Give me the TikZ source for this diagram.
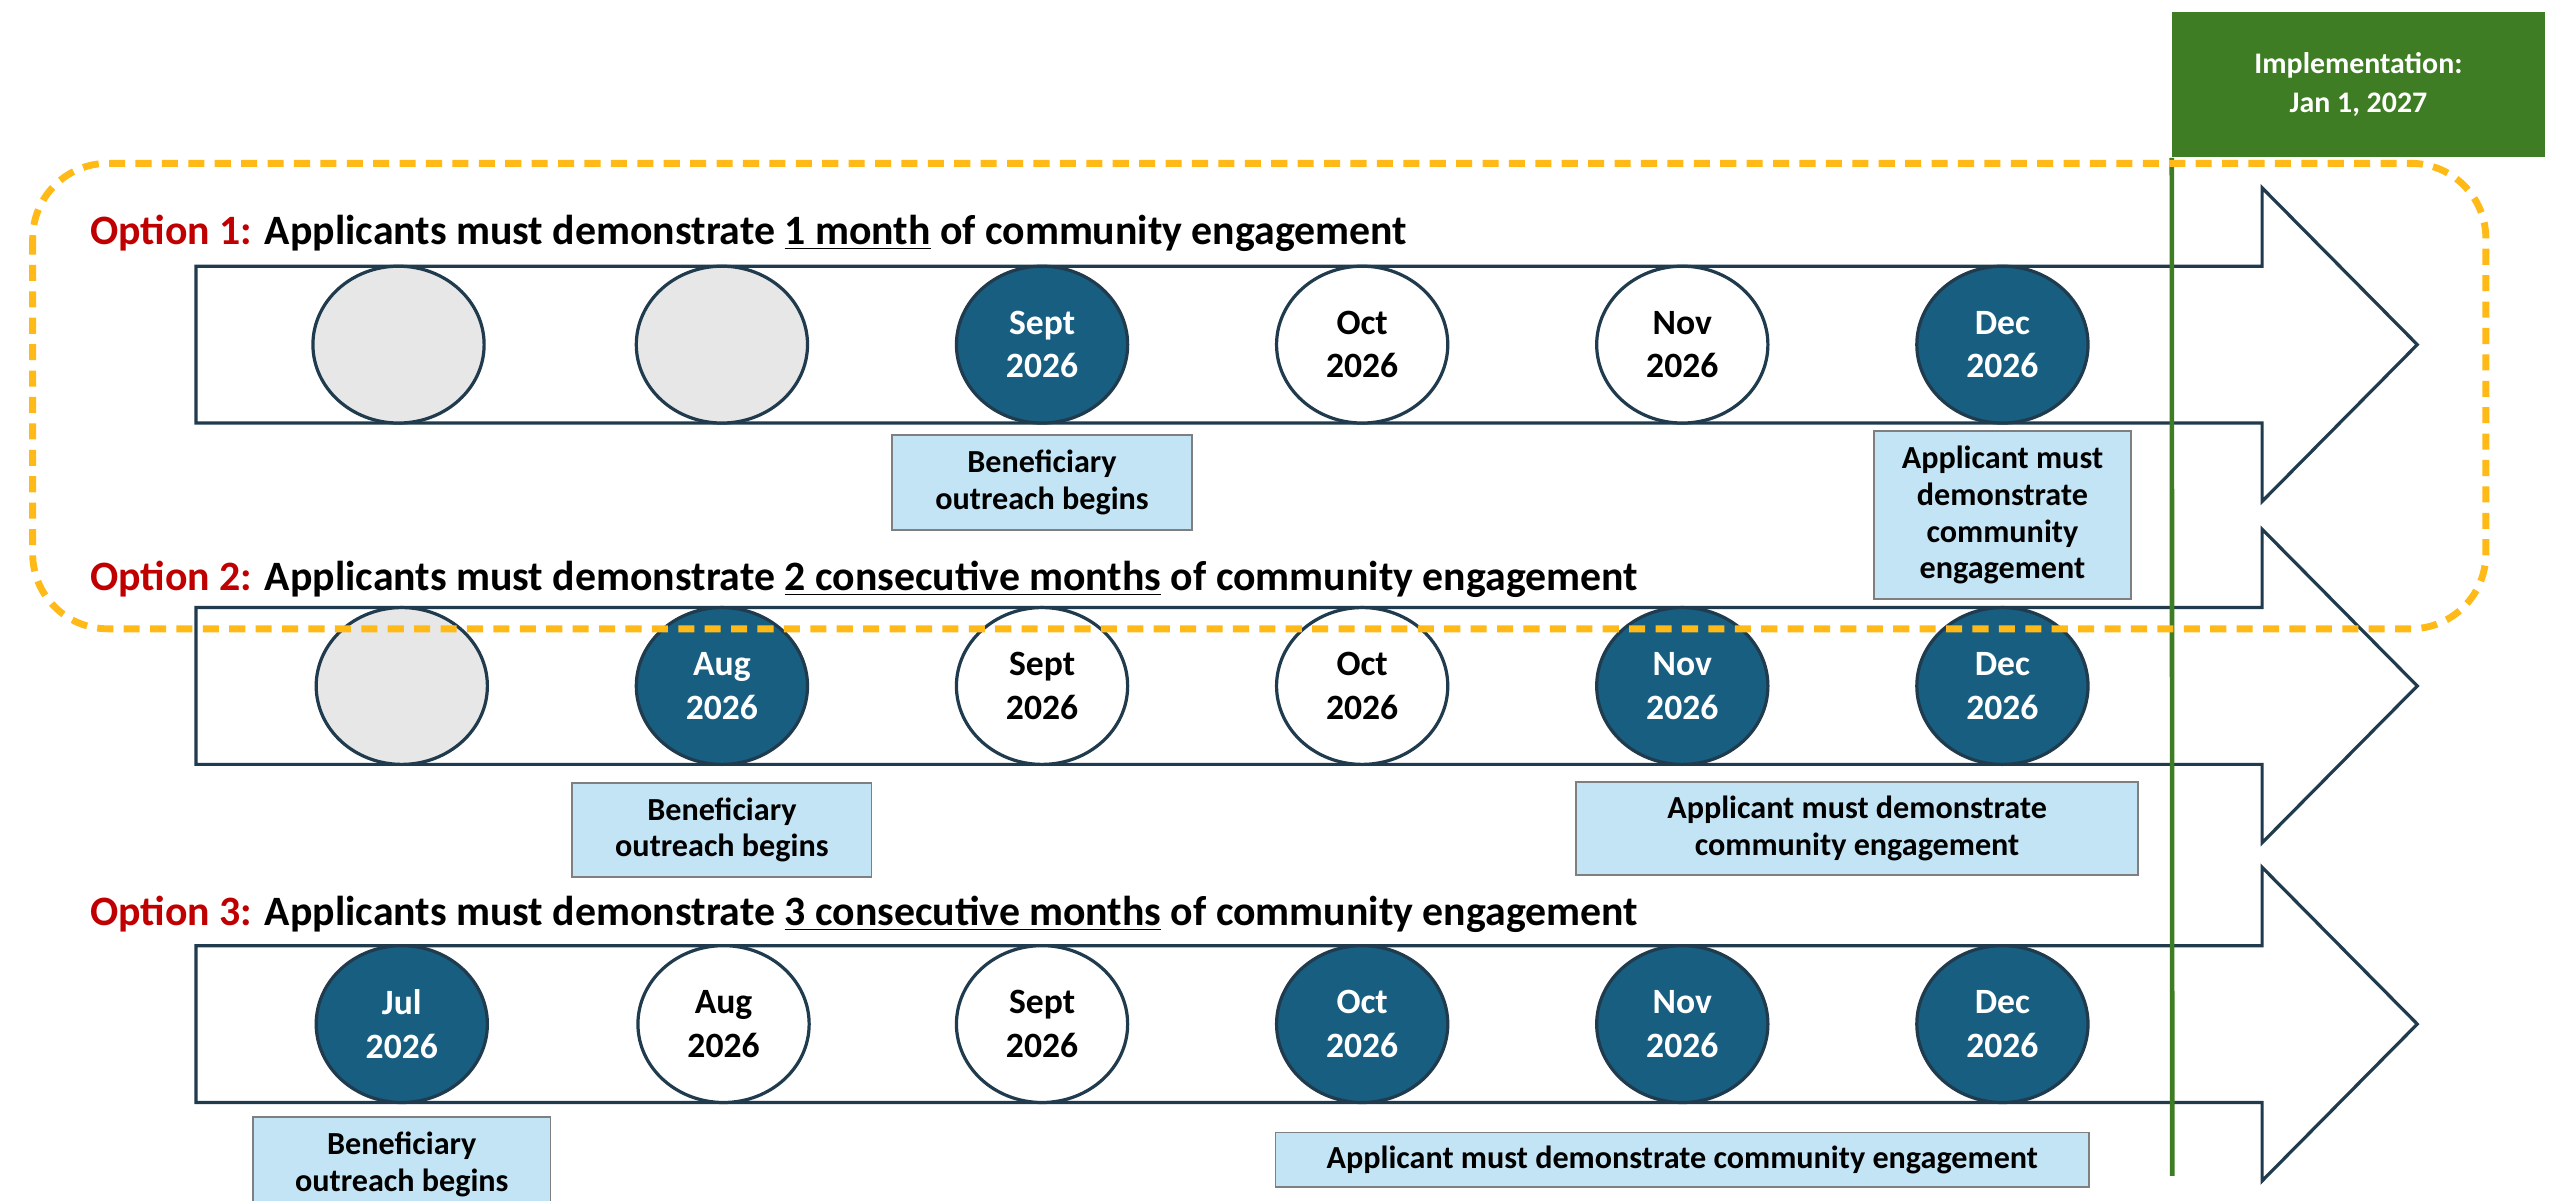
\documentclass[tikz,border=0pt]{standalone}
\usepackage{fontspec}
\setmainfont{Carlito}
\usetikzlibrary{positioning, shapes.geometric}
\definecolor{monthblue}{HTML}{185E80}
\definecolor{rimblue}{HTML}{1F3B4D}
\definecolor{emptygrey}{HTML}{E7E7E7}
\definecolor{notefill}{HTML}{C3E4F4}
\definecolor{noteline}{HTML}{7F7F7F}
\definecolor{implgreen}{HTML}{3E7D23}
\definecolor{optred}{HTML}{C00000}
\definecolor{hiorange}{HTML}{FFBA18}
\newcommand{\opt}[1]{\textcolor{optred}{Option #1:}}

\begin{document}
\begin{tikzpicture}[x=0.025cm,y=-0.025cm,
    month/.style={draw=rimblue,line width=1.4pt,ellipse,minimum width=2.62cm,minimum height=2.4cm,inner sep=0pt,align=center,font=\bfseries\fontsize{15.5}{19}\selectfont},
    done/.style={month,fill=monthblue,text=white},
    open/.style={month,fill=white},
    blank/.style={month,fill=emptygrey},
    note/.style={draw=noteline,fill=notefill,line width=0.8pt,align=center,inner sep=0pt,font=\bfseries\fontsize{14}{16}\selectfont},
    optitle/.style={anchor=west,inner sep=0pt,font=\bfseries\fontsize{18.2}{20}\selectfont},
    timeline/.style={draw=rimblue,line width=1.4pt,fill=white}]
    \useasboundingbox (0,0) rectangle (1568,735);

    % the three timeline arrows
    \foreach \y in {211,420,627}
        \draw[timeline] (120,\y-48) -- (1385,\y-48) -- (1385,\y-96) -- (1480,\y)
            -- (1385,\y+96) -- (1385,\y+48) -- (120,\y+48) -- cycle;

    \node[optitle] (opt1) at (55,143) {\opt{1} Applicants must demonstrate \underline{1 month} of community engagement};
    \node[optitle] (opt2) at (55,355) {\opt{2} Applicants must demonstrate \underline{2 consecutive months} of community engagement};
    \node[optitle] (opt3) at (55,560) {\opt{3} Applicants must demonstrate \underline{3 consecutive months} of community engagement};

    % option 1
    \node[blank] (o1jul) at (244,211) {};
    \node[blank] (o1aug) at (442,211) {};
    \node[done] (o1sep) at (638,211) {Sept\\2026};
    \node[open] (o1oct) at (834,211) {Oct\\2026};
    \node[open] (o1nov) at (1030,211) {Nov\\2026};
    \node[done] (o1dec) at (1226,211) {Dec\\2026};

    % option 2
    \node[blank] (o2jul) at (246,420) {};
    \node[done] (o2aug) at (442,420) {Aug\\2026};
    \node[open] (o2sep) at (638,420) {Sept\\2026};
    \node[open] (o2oct) at (834,420) {Oct\\2026};
    \node[done] (o2nov) at (1030,420) {Nov\\2026};
    \node[done] (o2dec) at (1226,420) {Dec\\2026};

    % option 3
    \node[done] (o3jul) at (246,627) {Jul\\2026};
    \node[open] (o3aug) at (443,627) {Aug\\2026};
    \node[open] (o3sep) at (638,627) {Sept\\2026};
    \node[done] (o3oct) at (834,627) {Oct\\2026};
    \node[done] (o3nov) at (1030,627) {Nov\\2026};
    \node[done] (o3dec) at (1226,627) {Dec\\2026};

    \node[note,anchor=north,minimum width=4.58cm,minimum height=1.45cm] (o1begin) at ([yshift=-0.15cm]o1sep.south) {Beneficiary\\outreach begins};
    \node[note,anchor=north,minimum width=3.93cm,minimum height=2.58cm] (o1show) at ([yshift=-0.08cm]o1dec.south) {Applicant must\\demonstrate\\community\\engagement};

    \node[note,anchor=north,minimum width=4.58cm,minimum height=1.43cm] (o2begin) at ([yshift=-0.25cm]o2aug.south) {Beneficiary\\outreach begins};
    \node[note,anchor=north,minimum width=8.6cm,minimum height=1.43cm] (o2show) at (1137,478) {Applicant must demonstrate\\community engagement};

    \node[note,anchor=north,minimum width=4.55cm,minimum height=1.45cm] (o3begin) at ([yshift=-0.18cm]o3jul.south) {Beneficiary\\outreach begins};
    \node[note,anchor=north,minimum width=12.45cm,minimum height=0.83cm] (o3show) at ([yshift=-0.42cm]o3nov.south) {Applicant must demonstrate community engagement};

    % implementation date
    \node[fill=implgreen,text=white,align=center,minimum width=5.7cm,minimum height=2.22cm,font=\bfseries\fontsize{13}{17}\selectfont] (impl) at (1444,52) {Implementation:\\Jan 1, 2027};
    \coordinate (implend) at (1330,720);
    \draw[implgreen,line width=2pt] (impl.south west) -- (implend);

    % highlight round option 1
    \draw[hiorange,line width=3pt,dash pattern=on 7pt off 4.5pt,rounded corners=1.15cm] (20,100) rectangle (1522,385);
\end{tikzpicture}
\end{document}
